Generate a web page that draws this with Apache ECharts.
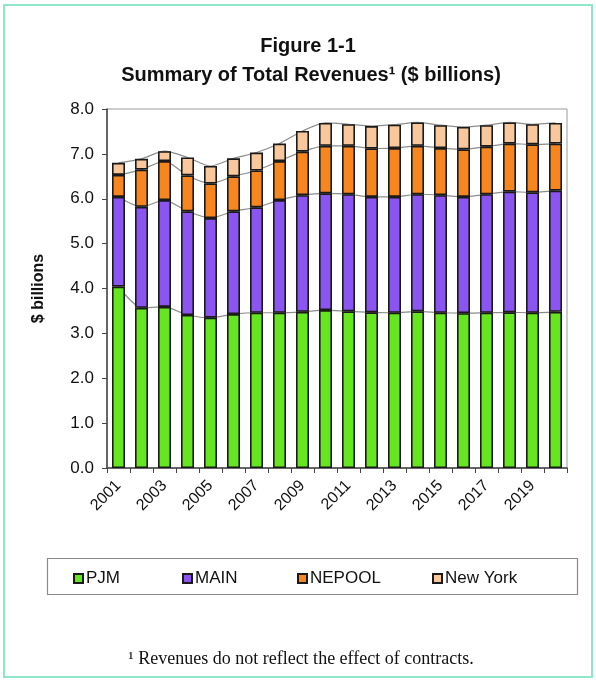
<!DOCTYPE html>
<html>
<head>
<meta charset="utf-8">
<script src="https://cdn.jsdelivr.net/npm/echarts@6/dist/echarts.min.js"></script>
<style>
  html, body { margin: 0; padding: 0; background: #ffffff; }
  #chart { width: 596px; height: 681px; }
</style>
</head>
<body>
<div id="chart"></div>
<script>
// Years on the category axis
const years = ['2001','2002','2003','2004','2005','2006','2007','2008','2009','2010',
               '2011','2012','2013','2014','2015','2016','2017','2018','2019','2020'];

// Revenues by region, $ billions
const pjm     = [4.04,3.57,3.59,3.41,3.35,3.43,3.46,3.46,3.48,3.52,3.49,3.47,3.46,3.49,3.46,3.45,3.46,3.47,3.46,3.48];
const main    = [2.00,2.25,2.38,2.31,2.22,2.29,2.35,2.51,2.60,2.60,2.61,2.57,2.58,2.61,2.62,2.59,2.64,2.69,2.68,2.70];
const nepool  = [0.49,0.83,0.87,0.80,0.77,0.78,0.82,0.87,0.97,1.06,1.08,1.08,1.09,1.08,1.05,1.06,1.06,1.07,1.07,1.05];
const newYork = [0.27,0.24,0.22,0.40,0.39,0.40,0.40,0.39,0.46,0.51,0.48,0.50,0.52,0.52,0.51,0.50,0.48,0.47,0.45,0.46];

const regionNames  = ['PJM', 'MAIN', 'NEPOOL', 'New York'];
const regionData   = [pjm, main, nepool, newYork];
const regionColors = ['#66e61e', '#8a55f0', '#f7861e', '#f8c89c'];

// Left edge of each legend entry's swatch
const legendLeft = [73, 182, 297, 432];

const FONT = '"Liberation Sans", Arial, sans-serif';

const chart = echarts.init(document.getElementById('chart'), null, { renderer: 'canvas' });

const barSeries = regionNames.map((name, i) => ({
  name: name,
  type: 'bar',
  stack: 'total',
  data: regionData[i],
  barWidth: 13,
  z: 3,
  itemStyle: { color: regionColors[i], borderColor: '#1a1a1a', borderWidth: 1.6 },
  emphasis: { disabled: true }
}));

// Grey series lines joining the top of each segment from bar to bar
const connectorSeries = regionNames.map((name, i) => ({
  name: name + ' series line',
  type: 'line',
  stack: 'connector',
  data: regionData[i],
  symbol: 'none',
  smooth: 0.25,
  z: 1,
  silent: true,
  lineStyle: { color: '#8c8c8c', width: 1.2 },
  emphasis: { disabled: true }
}));

const legends = regionNames.map((name, i) => ({
  data: [name],
  left: legendLeft[i], top: 570,
  padding: 0,
  itemWidth: 9, itemHeight: 9,
  icon: 'rect',
  selectedMode: false,
  textStyle: { fontFamily: FONT, fontSize: 17, color: '#111', padding: [0, 0, 0, -2] }
}));

chart.setOption({
  animation: false,
  backgroundColor: '#ffffff',
  title: [
    {
      text: 'Figure 1-1',
      left: 303, top: 31, textAlign: 'center',
      textStyle: { fontFamily: FONT, fontWeight: 'bold', fontSize: 20, color: '#111' }
    },
    {
      text: 'Summary of Total Revenues¹ ($ billions)',
      left: 306, top: 60, textAlign: 'center',
      textStyle: { fontFamily: FONT, fontWeight: 'bold', fontSize: 20, color: '#111' }
    },
    {
      text: '¹ Revenues do not reflect the effect of contracts.',
      left: 296, top: 645, textAlign: 'center',
      textStyle: { fontFamily: '"Liberation Serif", "Times New Roman", serif', fontWeight: 'normal', fontSize: 18, color: '#111' }
    }
  ],
  graphic: [
    {
      type: 'rect', z: 0,
      shape: { x: 4, y: 5, width: 588, height: 672 },
      style: { fill: 'none', stroke: '#8fe6c9', lineWidth: 2 }
    },
    {
      type: 'rect', z: 0,
      shape: { x: 47.5, y: 558.5, width: 530, height: 36 },
      style: { fill: '#ffffff', stroke: '#8a8a8a', lineWidth: 1.2 }
    }
  ],
  grid: {
    left: 107, right: 29, top: 109, bottom: 213,
    show: true, borderColor: '#9a9a9a', borderWidth: 1, backgroundColor: 'transparent'
  },
  legend: legends,
  xAxis: {
    type: 'category',
    data: years,
    boundaryGap: true,
    axisLine: { lineStyle: { color: '#444', width: 1.5 } },
    axisTick: { show: true, interval: 0, length: 5, inside: false, lineStyle: { color: '#444' } },
    axisLabel: {
      interval: 1, rotate: 45, margin: 15,
      fontFamily: FONT, fontSize: 16, color: '#111'
    }
  },
  yAxis: {
    type: 'value',
    min: 0, max: 8, interval: 1,
    name: '$ billions',
    nameLocation: 'middle',
    nameGap: 60,
    nameRotate: 90,
    nameTextStyle: { fontFamily: FONT, fontWeight: 'bold', fontSize: 16, color: '#111' },
    axisLine: { show: true, lineStyle: { color: '#444', width: 1.5 } },
    axisTick: { show: true, length: 5, lineStyle: { color: '#444' } },
    splitLine: { show: false },
    axisLabel: {
      margin: 13,
      fontFamily: FONT, fontSize: 17, color: '#111',
      formatter: v => v.toFixed(1)
    }
  },
  series: [...connectorSeries, ...barSeries]
});
</script>
</body>
</html>
